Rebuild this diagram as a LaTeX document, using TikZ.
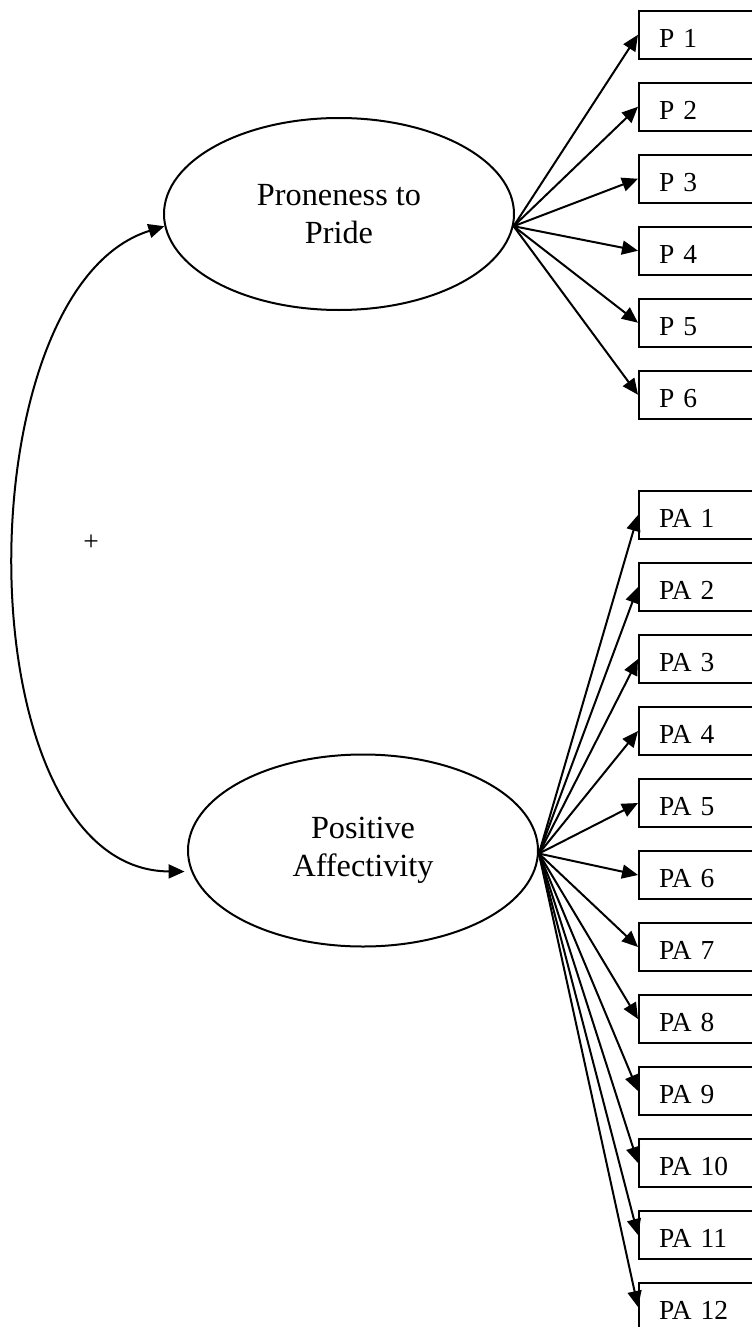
\documentclass[tikz,border=0pt]{standalone}
\usepackage{fontspec}
\setmainfont{Liberation Serif}
\usetikzlibrary{arrows.meta,shapes.geometric}
\begin{document}
\begin{tikzpicture}[x=0.75pt,y=-0.75pt,
  tip/.tip={Triangle[length=12pt,width=10.5pt]},
  conn/.style={line width=1.5pt, -tip},
  latent/.style={ellipse, draw, line width=1.5pt, minimum width=262.5pt,
    minimum height=144pt, inner sep=0pt, align=center,
    font=\fontsize{24.2}{28.5}\selectfont},
  item/.style={draw, line width=1.5pt, anchor=west, text width=90pt,
    align=left, inner xsep=15pt, inner ysep=0pt, text height=27.4pt,
    text depth=8.25pt, font=\fontsize{20.6}{24}\selectfont}
]
\useasboundingbox (0,0) rectangle (752,1327);
\clip (0,0) rectangle (752,1327);

% latent variables
\node[latent] (pp) at (339,214) {Proneness to\\Pride};
\node[latent] (pa) at (363,850.5) {Positive\\Affectivity};

% indicators
\foreach \i in {1,...,6}
  \node[item] (p\i) at (638,{34.75+72*(\i-1)}) {P \i};
\foreach \i in {1,...,12}
  \node[item] (pa\i) at (638,{515+72*(\i-1)}) {PA \i};

% loadings
\foreach \i in {1,...,6}
  \draw[conn] (pp.-4.25) -- (p\i.west);
\foreach \i in {1,...,12}
  \draw[conn] (pa.-1) -- (pa\i.west);

% correlation between the two factors
\draw[line width=1.5pt, tip-tip, shorten <=5pt]
  (pa.187.2) .. controls (-38,870) and (-38,289) .. (pp.184.25);
\node[font=\fontsize{20.6}{24}\selectfont] (plus) at (91,543) {+};
\end{tikzpicture}
\end{document}
